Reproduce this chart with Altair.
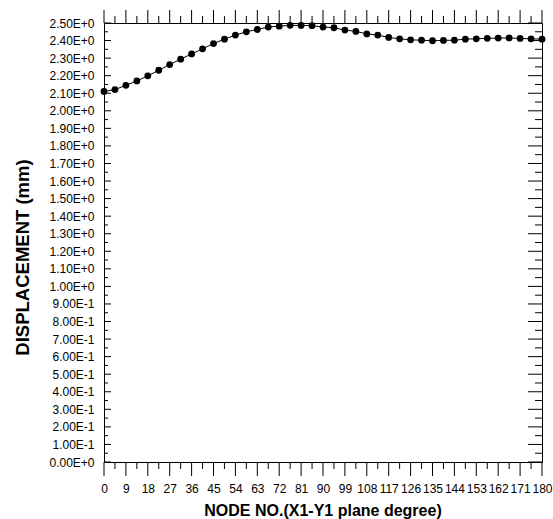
import altair as alt
import pandas as pd

# --- data ---
angles = [0, 4.5, 9, 13.5, 18, 22.5, 27, 31.5, 36, 40.5, 45, 49.5, 54, 58.5, 63, 67.5,
          72, 76.5, 81, 85.5, 90, 94.5, 99, 103.5, 108, 112.5, 117, 121.5, 126, 130.5,
          135, 139.5, 144, 148.5, 153, 157.5, 162, 166.5, 171, 175.5, 180]
displacement = [2.110, 2.121, 2.145, 2.170, 2.199, 2.231, 2.263, 2.294, 2.324, 2.353,
                2.383, 2.408, 2.431, 2.450, 2.463, 2.477, 2.482, 2.487, 2.486, 2.485,
                2.477, 2.473, 2.460, 2.452, 2.438, 2.431, 2.418, 2.410, 2.404, 2.402,
                2.399, 2.401, 2.402, 2.408, 2.410, 2.413, 2.414, 2.415, 2.412, 2.410, 2.408]

x_major = [0, 9, 18, 27, 36, 45, 54, 63, 72, 81, 90, 99, 108, 117, 126, 135, 144,
           153, 162, 171, 180]
x_minor = [4.5, 13.5, 22.5, 31.5, 40.5, 49.5, 58.5, 67.5, 76.5, 85.5, 94.5, 103.5,
           112.5, 121.5, 130.5, 139.5, 148.5, 157.5, 166.5, 175.5]
y_major = [0.0, 0.1, 0.2, 0.3, 0.4, 0.5, 0.6, 0.7, 0.8, 0.9, 1.0, 1.1, 1.2, 1.3,
           1.4, 1.5, 1.6, 1.7, 1.8, 1.9, 2.0, 2.1, 2.2, 2.3, 2.4, 2.5]
y_minor = [0.05, 0.15, 0.25, 0.35, 0.45, 0.55, 0.65, 0.75, 0.85, 0.95, 1.05, 1.15,
           1.25, 1.35, 1.45, 1.55, 1.65, 1.75, 1.85, 1.95, 2.05, 2.15, 2.25, 2.35, 2.45]

W, H = 438, 439
FONT = "Liberation Sans"

df = pd.DataFrame({"angle": angles, "disp": displacement})

xs = alt.Scale(domain=[0, 180], nice=False, zero=False)
ys = alt.Scale(domain=[0, 2.5], nice=False, zero=False)

label_expr = ("(datum.value >= 0.95 || datum.value < 0.05) ? "
              "format(datum.value, '.2f') + 'E+0' : "
              "format(datum.value * 10, '.2f') + 'E-1'")

x_axis = alt.Axis(values=x_major, format="d", labelPadding=21,
                  labelOverlap=False, labelFlush=False, labelBound=False,
                  title="NODE NO.(X1-Y1 plane degree)",
                  titleFontSize=16, titleX=218.5, titleY=48)
y_axis = alt.Axis(values=y_major, labelExpr=label_expr, labelPadding=10,
                  labelOverlap=False, labelFlush=False, labelBound=False,
                  title="DISPLACEMENT (mm)", titleFontSize=18.5,
                  titleX=-82, titleY=234, titleAngle=270)

line = alt.Chart(df).mark_line(color="black", strokeWidth=1).encode(
    x=alt.X("angle:Q", scale=xs, axis=x_axis),
    y=alt.Y("disp:Q", scale=ys, axis=y_axis),
)
pts = alt.Chart(df).mark_circle(color="black", size=46, opacity=1).encode(
    x=alt.X("angle:Q", scale=xs, axis=x_axis),
    y=alt.Y("disp:Q", scale=ys, axis=y_axis),
)

def xticks(vals, side, y0, y1):
    d = pd.DataFrame({"angle": vals, "side": side})
    return alt.Chart(d).mark_rule(color="black", strokeWidth=1).encode(
        x=alt.X("angle:Q", scale=xs, axis=x_axis), y=alt.value(y0), y2=alt.value(y1))

def yticks(vals, side, x0, x1):
    d = pd.DataFrame({"disp": vals, "side": side})
    return alt.Chart(d).mark_rule(color="black", strokeWidth=1).encode(
        y=alt.Y("disp:Q", scale=ys, axis=y_axis), x=alt.value(x0), x2=alt.value(x1))

layers = [
    line, pts,
    xticks(x_major, "bottom-major", H, H + 14),
    xticks(x_minor, "bottom-minor", H, H + 7),
    xticks(x_major, "top-major", 0, -13),
    xticks(x_minor, "top-minor", 0, -7),
    yticks(y_major, "left-major", 0, 7),
    yticks(y_minor, "left-minor", 0, 4),
    yticks(y_major, "right-major", W - 14, W),
    yticks(y_minor, "right-minor", W - 7, W),
]

chart = alt.layer(*layers).properties(
    width=W, height=H,
    autosize=alt.AutoSizeParams(type="none"),
    padding={"left": 104, "top": 23, "right": 11, "bottom": 57},
    background="white",
).configure_view(
    stroke="black", strokeWidth=1
).configure_axis(
    grid=False, ticks=False, tickSize=0, domain=False,
    labelFontSize=12, labelFont=FONT, labelColor="black",
    labelOverlap=False, labelFlush=False, labelBound=False,
    titleFont=FONT, titleFontWeight="bold", titleColor="black",
    titleBaseline="middle", titleAlign="center",
)

chart.save("out.html", embed_options={"renderer": "svg", "actions": False})
